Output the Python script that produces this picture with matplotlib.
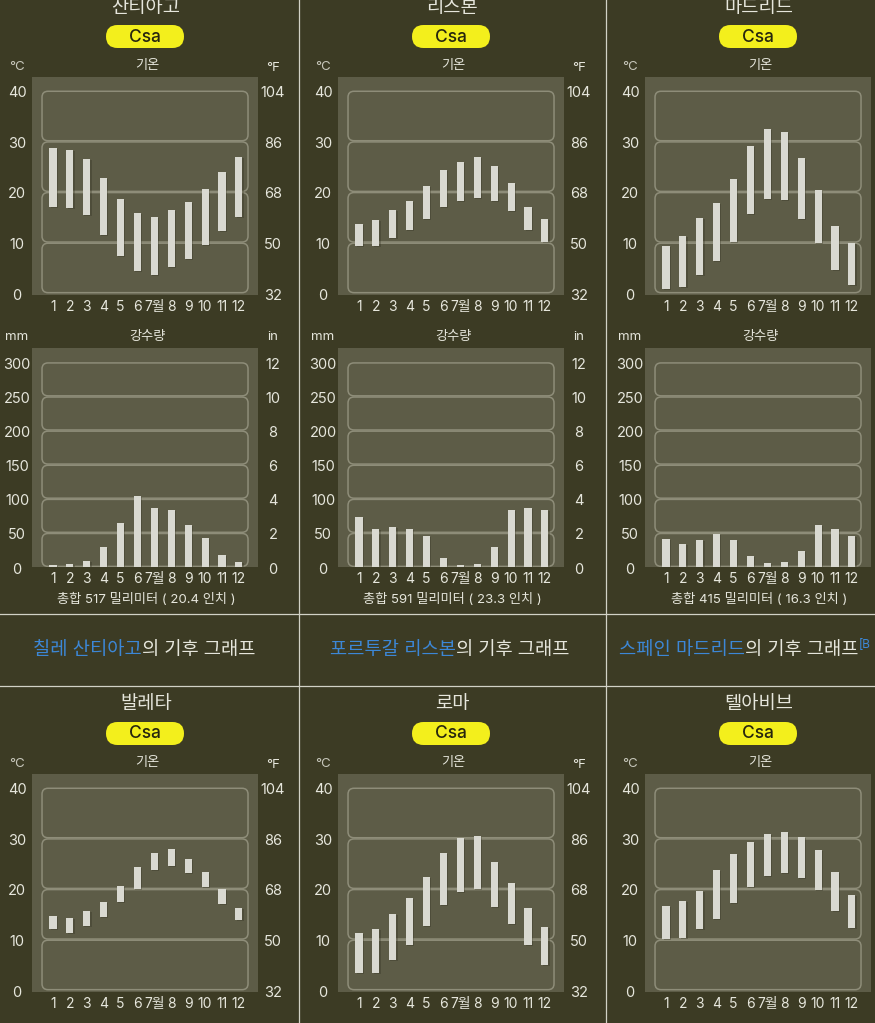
import matplotlib.pyplot as plt
import numpy as np
from matplotlib.patches import FancyBboxPatch
from matplotlib import transforms

W, H = 875, 1023

# ---- data ----
months = np.arange(1, 13)
month_labels = ['1', '2', '3', '4', '5', '6', '7월', '8', '9', '10', '11', '12']

cities = ['산티아고', '리스본', '마드리드', '발레타', '로마', '텔아비브']
koppen = ['Csa', 'Csa', 'Csa', 'Csa', 'Csa', 'Csa']

# monthly mean high / low, degC
santiago_hi = [28.7, 28.3, 26.6, 22.7, 18.7, 15.9, 15.1, 16.4, 18.0, 20.6, 23.9, 26.9]
santiago_lo = [17.0, 16.8, 15.4, 11.6, 7.3, 4.4, 3.6, 5.1, 6.7, 9.5, 12.2, 15.0]
lisbon_hi = [13.7, 14.4, 16.5, 18.3, 21.1, 24.3, 25.9, 26.9, 25.1, 21.7, 17.0, 14.6]
lisbon_lo = [9.3, 9.3, 10.9, 12.5, 14.7, 17.0, 18.2, 18.9, 18.2, 16.3, 12.5, 10.2]
madrid_hi = [9.4, 11.4, 14.9, 17.9, 22.6, 29.0, 32.4, 31.8, 26.7, 20.3, 13.2, 10.0]
madrid_lo = [0.8, 1.3, 3.7, 6.3, 10.2, 15.7, 18.7, 18.4, 14.7, 10.0, 4.6, 1.7]
valletta_hi = [14.7, 14.3, 15.7, 17.5, 20.6, 24.4, 27.2, 27.9, 25.9, 23.3, 19.9, 16.3]
valletta_lo = [12.0, 11.4, 12.6, 14.4, 17.4, 19.9, 23.7, 24.5, 23.2, 20.4, 17.0, 13.8]
rome_hi = [11.3, 12.0, 15.1, 18.3, 22.4, 27.2, 30.1, 30.4, 25.3, 21.1, 16.2, 12.4]
rome_lo = [3.4, 3.5, 6.0, 8.9, 12.6, 16.8, 19.4, 19.9, 16.5, 13.0, 9.0, 4.9]
telaviv_hi = [16.6, 17.6, 19.6, 23.7, 27.0, 29.2, 30.8, 31.3, 30.2, 27.6, 23.4, 18.8]
telaviv_lo = [10.1, 10.4, 12.0, 14.1, 17.3, 20.3, 22.5, 23.2, 22.2, 19.7, 15.7, 12.2]

# precipitation, mm
santiago_rain = [2.5, 4, 9, 29, 65, 104, 86, 84, 62, 43, 17, 7]
lisbon_rain = [73, 55, 58, 56, 45, 13, 3, 5, 30, 84, 87, 83]
madrid_rain = [41, 34, 40, 48, 39, 16, 6, 8, 23, 61, 55, 46]
rain_totals = ['총합 517 밀리미터 ( 20.4 인치 )',
               '총합 591 밀리미터 ( 23.3 인치 )',
               '총합 415 밀리미터 ( 16.3 인치 )']

temp_ticks_c = [0, 10, 20, 30, 40]
temp_ticks_f = ['32', '50', '68', '86', '104']
rain_ticks_mm = [0, 50, 100, 150, 200, 250, 300]
rain_ticks_in = ['0', '2', '4', '6', '8', '10', '12']

captions = [('칠레 산티아고', '의 기후 그래프'),
            ('포르투갈 리스본', '의 기후 그래프'),
            ('스페인 마드리드', '의 기후 그래프')]

temps = [(santiago_lo, santiago_hi), (lisbon_lo, lisbon_hi), (madrid_lo, madrid_hi),
         (valletta_lo, valletta_hi), (rome_lo, rome_hi), (telaviv_lo, telaviv_hi)]
rains = [santiago_rain, lisbon_rain, madrid_rain]

# ---- style ----
BG = '#3c3b24'
PANEL = '#5d5c47'
BOX = '#8e8d79'
BAR = '#d9d9d1'
SHADOW = '#2e2d1c'
TXT = '#e6e6dc'
DIM = '#c8c8bc'
YELLOW = '#f3ef1c'
LINK = '#3c87d6'
plt.rcParams['font.family'] = ['Inter', 'Noto Sans CJK KR', 'DejaVu Sans']

col_x = [0, 306, 613]
row_y = [0, 697]
STEP = 16.9  # pixels per month

fig = plt.figure(figsize=(W / 100, H / 100), dpi=100, facecolor=BG)
bg = fig.add_axes([0, 0, 1, 1])
bg.set_xlim(0, W)
bg.set_ylim(H, 0)
bg.axis('off')


def chart(ox, oy, top, bottom, ylim, bands, lo, hi, lticks, rticks, month_y):
    x0, x1 = 32 + ox, 258 + ox
    ax = fig.add_axes([x0 / W, 1 - (bottom + oy) / H, (x1 - x0) / W, (bottom - top) / H])
    ax.set_facecolor(PANEL)
    for s in ax.spines.values():
        s.set_visible(False)
    ax.set_xticks([])
    ax.set_yticks([])
    ax.set_xlim(1 - (53 - 32) / STEP, 1 + (258 - 53) / STEP)
    ax.set_ylim(*ylim)

    ypx = (bottom - top) / (ylim[1] - ylim[0])
    asp = STEP / ypx
    g = 0.6 / ypx
    for b0, b1 in zip(bands[:-1], bands[1:]):
        ax.add_patch(FancyBboxPatch((0.35, b0 + g), 12.54 - 0.35, b1 - b0 - 2 * g,
                                    boxstyle=f'round,pad=0,rounding_size={6 / STEP}',
                                    mutation_aspect=asp, fc='none', ec=BOX, lw=1.1, zorder=1))

    lo = np.array(lo, dtype=float)
    h = np.array(hi) - lo
    ax.bar(months + 1.2 / STEP, h, bottom=lo - 1.0 / ypx, width=0.42,
           color=SHADOW, alpha=0.3, zorder=2)
    ax.bar(months, h, bottom=lo, width=0.42, color=BAR, zorder=3)

    # axis labels (sit a couple of pixels under their grid lines)
    w = x1 - x0
    dy = 2.5 / ypx
    tr = transforms.blended_transform_factory(ax.transAxes, ax.transData)
    for v in lticks:
        ax.text((17 + ox - x0) / w, v - dy, str(v), transform=tr, ha='center', va='center',
                fontsize=10.5, color=TXT)
    if 273 + ox < W:
        for v, lab in zip(lticks, rticks):
            ax.text((273 + ox - x0) / w, v - dy, lab, transform=tr, ha='center', va='center',
                    fontsize=10.5, color=TXT)
    trm = transforms.blended_transform_factory(ax.transData, ax.transAxes)
    for m, lab in zip(months, month_labels):
        ax.text(m, -(month_y + 2 - bottom) / (bottom - top), lab, transform=trm,
                ha='center', va='center', fontsize=10, color=TXT)
    return ax


for i, city in enumerate(cities):
    ox = col_x[i % 3]
    oy = row_y[i // 3]
    cx = 146 + ox
    bg.text(cx, 8 + oy, city, ha='center', va='center', fontsize=13.5, color=TXT)
    bg.add_patch(FancyBboxPatch((106 + ox, 25 + oy), 78, 23,
                                boxstyle='round,pad=0,rounding_size=11.5',
                                fc=YELLOW, ec='none'))
    bg.text(145 + ox, 37 + oy, koppen[i], ha='center', va='center', fontsize=12.5,
            color='#26260e', fontweight='medium')

    bg.text(17 + ox, 67 + oy, '°C', ha='center', va='center', fontsize=9.5, color=DIM)
    bg.text(147 + ox, 66 + oy, '기온', ha='center', va='center', fontsize=9.5, color=TXT)
    if 273 + ox < W:
        bg.text(273 + ox, 68 + oy, '°F', ha='center', va='center', fontsize=9.5, color=TXT)

    lo, hi = temps[i]
    chart(ox, oy, 77, 295, (-0.34, 42.7), temp_ticks_c, lo, hi,
          temp_ticks_c, temp_ticks_f, 305)

    if i < 3:
        bg.text(17 + ox, 337, 'mm', ha='center', va='center', fontsize=9.5, color=TXT)
        bg.text(147 + ox, 337, '강수량', ha='center', va='center', fontsize=9.5, color=TXT)
        if 273 + ox < W:
            bg.text(273 + ox, 337, 'in', ha='center', va='center', fontsize=9.5, color=TXT)
        chart(ox, 0, 348, 567, (0, 321), rain_ticks_mm, np.zeros(12), rains[i],
              rain_ticks_mm, rain_ticks_in, 577)
        bg.text(146 + ox, 599, rain_totals[i], ha='center', va='center', fontsize=9.5, color=TXT)

# caption row
splits = [142, 456, 745]
for (link, rest), sx in zip(captions, splits):
    bg.text(sx, 651, link, ha='right', va='center', fontsize=13.5, color=LINK)
    bg.text(sx, 651, rest, ha='left', va='center', fontsize=13.5, color=TXT,
            fontweight='medium')
bg.text(859, 645, '[B', ha='left', va='center', fontsize=8.5, color=LINK)

# cell borders
for x in [298.5, 605.5]:
    bg.plot([x, x], [0, H], color='#d2d2c6', lw=0.9)
for y in [614, 686]:
    bg.plot([0, W], [y, y], color='#d2d2c6', lw=0.9)

fig.savefig('out.png', dpi=100, facecolor=BG)
